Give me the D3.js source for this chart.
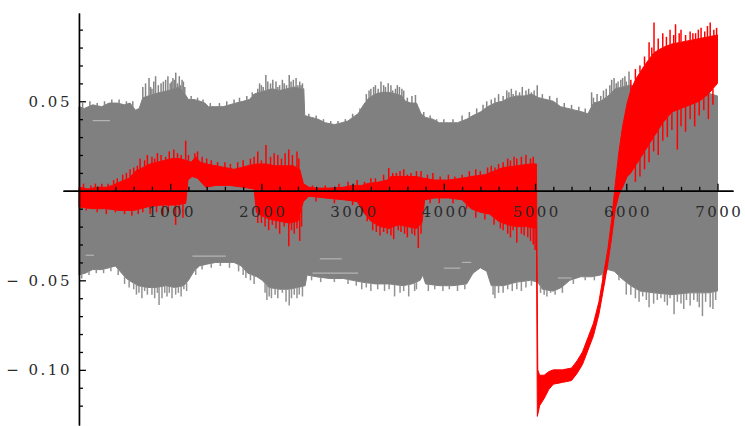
<!DOCTYPE html>
<html>
<head>
<meta charset="utf-8">
<script src="https://cdn.jsdelivr.net/npm/d3@7"></script>
<style>
  html, body { margin: 0; padding: 0; background: #fff; }
  svg { display: block; }
  .tick text { font-family: "DejaVu Serif", serif; font-size: 15px; fill: #2a2a2a; letter-spacing: 2.5px; }
</style>
</head>
<body>
<svg id="chart" width="745" height="426"></svg>
<script>
// ---- data: [time, value] pairs ----
// upper and lower envelope of the gray (background) signal
const grayUpper = [[0,0.047],[60,0.046],[150,0.048],[250,0.047],[330,0.049],[420,0.049],[500,0.048],[560,0.049],[620,0.045],[660,0.046],
  [700,0.052],[760,0.053],[820,0.054],[900,0.055],[980,0.056],[1040,0.057],[1100,0.058],[1150,0.055],[1200,0.051],[1260,0.051],
  [1330,0.050],[1380,0.049],[1420,0.047],[1500,0.047],[1580,0.047],[1650,0.048],[1720,0.049],[1800,0.050],[1870,0.051],[1920,0.054],
  [1980,0.055],[2050,0.056],[2120,0.057],[2200,0.056],[2280,0.057],[2360,0.058],[2440,0.057],[2465,0.057],[2475,0.042],[2550,0.041],
  [2620,0.040],[2700,0.038],[2800,0.037],[2880,0.038],[2950,0.039],[3000,0.041],[3060,0.043],[3120,0.048],[3180,0.052],[3250,0.054],
  [3320,0.055],[3400,0.055],[3480,0.054],[3540,0.053],[3580,0.050],[3640,0.049],[3700,0.049],[3750,0.043],[3800,0.041],[3880,0.040],
  [3950,0.038],[4050,0.038],[4150,0.038],[4250,0.040],[4320,0.042],[4400,0.044],[4480,0.047],[4560,0.049],[4640,0.050],[4720,0.052],
  [4800,0.053],[4880,0.053],[4960,0.054],[5040,0.052],[5120,0.051],[5200,0.050],[5280,0.047],[5360,0.046],[5440,0.045],[5520,0.044],
  [5580,0.043],[5640,0.049],[5720,0.050],[5800,0.053],[5880,0.057],[5960,0.058],[6040,0.059],[6200,0.058],[6400,0.057],[6600,0.056],
  [6800,0.056],[7000,0.053]];
const grayLower = [[0,-0.047],[70,-0.046],[150,-0.044],[250,-0.044],[330,-0.043],[400,-0.042],[450,-0.045],[520,-0.049],[580,-0.051],[650,-0.053],
  [750,-0.054],[850,-0.054],[950,-0.053],[1050,-0.054],[1150,-0.053],[1200,-0.050],[1260,-0.045],[1320,-0.042],[1400,-0.041],[1500,-0.040],
  [1600,-0.040],[1700,-0.040],[1780,-0.042],[1850,-0.046],[1950,-0.048],[2010,-0.050],[2080,-0.054],[2200,-0.055],[2300,-0.055],[2400,-0.054],
  [2480,-0.053],[2500,-0.047],[2600,-0.048],[2750,-0.049],[2900,-0.049],[3000,-0.050],[3100,-0.051],[3250,-0.052],[3400,-0.052],[3550,-0.053],
  [3650,-0.052],[3740,-0.050],[3770,-0.047],[3800,-0.052],[3950,-0.053],[4100,-0.053],[4250,-0.052],[4320,-0.046],[4400,-0.043],[4470,-0.045],
  [4520,-0.053],[4650,-0.053],[4800,-0.051],[4950,-0.050],[5030,-0.051],[5080,-0.055],[5200,-0.056],[5290,-0.054],[5380,-0.050],[5500,-0.048],
  [5620,-0.048],[5720,-0.047],[5800,-0.044],[5870,-0.045],[5950,-0.049],[6050,-0.053],[6150,-0.056],[6300,-0.057],[6500,-0.058],[6700,-0.057],
  [6900,-0.057],[7000,-0.056]];
// short excursions of the gray signal past its envelope
const grayUpperSpikes = [[40,0.049],[120,0.050],[200,0.049],[280,0.050],[360,0.051],[440,0.051],[520,0.050],[590,0.050],
  [700,0.058],[730,0.060],[768,0.063],[785,0.058],[800,0.057],[820,0.061],[840,0.064],[870,0.059],[900,0.060],[925,0.061],[950,0.062],[975,0.064],
  [1000,0.060],[1015,0.061],[1030,0.063],[1045,0.062],[1061,0.066],[1080,0.060],[1100,0.064],[1115,0.059],[1130,0.062],[1145,0.061],[1160,0.058],
  [1230,0.053],[1300,0.052],[1360,0.051],[1440,0.049],[1540,0.049],[1620,0.050],[1700,0.051],[1760,0.052],[1840,0.053],[1900,0.055],
  [1960,0.057],[1980,0.060],[2000,0.059],[2020,0.058],[2049,0.0647],[2070,0.061],[2100,0.060],[2125,0.062],[2160,0.061],[2180,0.058],
  [2200,0.059],[2230,0.062],[2250,0.060],[2275,0.059],[2305,0.0647],[2325,0.061],[2350,0.062],[2380,0.063],[2400,0.059],[2420,0.061],[2435,0.059],[2450,0.060],
  [2520,0.043],[2600,0.042],[2680,0.040],[2760,0.039],[2840,0.039],[2920,0.040],[3000,0.043],[3080,0.046],
  [3150,0.054],[3180,0.056],[3200,0.057],[3230,0.058],[3250,0.059],[3280,0.057],[3311,0.061],[3340,0.059],[3360,0.058],[3390,0.060],[3420,0.059],
  [3440,0.056],[3470,0.057],[3490,0.059],[3513,0.058],[3540,0.057],[3560,0.056],[3600,0.052],[3650,0.053],[3689,0.0535],
  [3780,0.044],[3850,0.042],[3920,0.040],[4000,0.040],[4100,0.040],[4200,0.042],[4280,0.044],[4360,0.046],[4430,0.048],
  [4470,0.050],[4520,0.051],[4560,0.052],[4600,0.054],[4650,0.053],[4690,0.056],[4713,0.055],[4740,0.057],[4760,0.054],[4790,0.056],[4830,0.055],
  [4860,0.058],[4900,0.056],[4930,0.057],[4960,0.055],[4990,0.056],[5024,0.059],
  [5080,0.054],[5160,0.053],[5240,0.052],[5320,0.049],[5400,0.048],[5480,0.047],[5550,0.046],
  [5620,0.055],[5640,0.052],[5680,0.054],[5720,0.053],[5750,0.056],[5780,0.057],[5820,0.059],[5840,0.062],[5866,0.063],[5890,0.060],[5910,0.061],
  [5940,0.062],[5960,0.063],[5985,0.064],[6000,0.061],[6030,0.0666]];
const grayLowerSpikes = [[30,-0.049],[110,-0.047],[190,-0.046],[270,-0.046],[350,-0.045],[430,-0.047],[500,-0.052],[550,-0.054],
  [600,-0.055],[630,-0.058],[658,-0.057],[690,-0.060],[720,-0.056],[750,-0.058],[800,-0.058],[830,-0.060],[860,-0.057],[878,-0.0638],[910,-0.060],
  [940,-0.057],[965,-0.059],[990,-0.057],[1020,-0.060],[1060,-0.058],[1090,-0.057],[1120,-0.059],[1150,-0.055],[1180,-0.056],
  [1280,-0.047],[1350,-0.044],[1450,-0.043],[1550,-0.042],[1650,-0.043],[1750,-0.045],[1800,-0.047],[1830,-0.0487],[1880,-0.050],[1920,-0.052],
  [2040,-0.057],[2060,-0.061],[2085,-0.059],[2110,-0.060],[2150,-0.058],[2180,-0.060],[2230,-0.057],[2270,-0.062],[2305,-0.064],[2330,-0.060],
  [2360,-0.058],[2390,-0.060],[2415,-0.058],[2450,-0.059],
  [2550,-0.050],[2650,-0.051],[2800,-0.051],[2950,-0.052],[3040,-0.053],
  [3100,-0.055],[3150,-0.054],[3200,-0.056],[3275,-0.055],[3350,-0.056],[3400,-0.055],[3460,-0.059],[3520,-0.057],[3560,-0.056],[3615,-0.059],
  [3680,-0.056],[3700,-0.055],[3830,-0.056],[3900,-0.055],[3990,-0.056],[4060,-0.055],[4150,-0.056],[4230,-0.055],
  [4540,-0.058],[4560,-0.060],[4600,-0.057],[4650,-0.057],[4700,-0.055],[4750,-0.056],[4800,-0.055],[4850,-0.056],[4900,-0.054],[4960,-0.053],
  [5060,-0.057],[5100,-0.058],[5130,-0.059],[5170,-0.057],[5220,-0.058],[5300,-0.057],[5420,-0.052],[5550,-0.050],[5650,-0.050],[5740,-0.049],
  [5920,-0.050],[6000,-0.058],[6050,-0.058],[6100,-0.060],[6140,-0.062],[6180,-0.059],[6220,-0.061],[6250,-0.065],[6300,-0.063],[6340,-0.061],
  [6380,-0.060],[6420,-0.062],[6450,-0.064],[6480,-0.060],[6524,-0.069],[6560,-0.062],[6600,-0.063],[6630,-0.066],[6660,-0.061],[6700,-0.064],
  [6740,-0.061],[6780,-0.062],[6800,-0.065],[6835,-0.070],[6870,-0.062],[6920,-0.065],[6950,-0.066],[6980,-0.061]];
// faint gaps inside the gray band: [from, to, value]
const grayGaps = [[150,340,0.0392],[73,165,-0.036],[1244,1610,-0.0365],[2640,2880,-0.038],[2560,3060,-0.046],[4000,4180,-0.0432],[4200,4300,-0.040],[5250,5400,-0.0487]];

// upper and lower envelope of the red signal
const redUpper = [[0,0.002],[100,0.001],[200,0.002],[300,0.002],[366,0.003],[450,0.005],[550,0.007],[620,0.011],[700,0.013],[780,0.015],
  [860,0.016],[940,0.017],[1020,0.018],[1100,0.018],[1170,0.017],[1230,0.016],[1280,0.019],[1330,0.016],[1400,0.015],[1500,0.014],
  [1600,0.013],[1700,0.012],[1780,0.013],[1850,0.014],[1950,0.015],[2050,0.015],[2150,0.014],[2250,0.014],[2350,0.014],[2420,0.012],
  [2460,0.004],[2520,0.002],[2600,0.0015],[2750,0.0015],[2900,0.002],[3000,0.003],[3100,0.003],[3160,0.004],[3300,0.005],[3380,0.006],
  [3420,0.008],[3550,0.008],[3700,0.008],[3780,0.007],[3900,0.006],[4050,0.006],[4200,0.007],[4300,0.008],[4450,0.009],[4550,0.011],
  [4650,0.013],[4800,0.014],[4950,0.015],[5015,0.015],[5030,-0.100],[5050,-0.103],[5100,-0.103],[5150,-0.101],[5200,-0.100],[5300,-0.100],
  [5400,-0.099],[5460,-0.095],[5520,-0.090],[5580,-0.082],[5640,-0.074],[5700,-0.062],[5760,-0.044],[5800,-0.032],[5840,-0.016],[5880,0.004],
  [5920,0.022],[5960,0.036],[6010,0.049],[6050,0.056],[6100,0.062],[6200,0.070],[6300,0.077],[6400,0.080],[6500,0.082],[6600,0.083],
  [6700,0.084],[6800,0.085],[6900,0.086],[7000,0.087]];
const redLower = [[0,-0.009],[150,-0.010],[300,-0.010],[450,-0.011],[600,-0.011],[750,-0.009],[900,-0.008],[1050,-0.008],[1170,-0.007],[1195,0.006],
  [1240,0.008],[1300,0.007],[1390,0.002],[1500,0.003],[1650,0.003],[1800,0.002],[1920,0.001],[1945,-0.012],[2000,-0.014],[2100,-0.016],
  [2200,-0.017],[2300,-0.018],[2400,-0.017],[2460,-0.006],[2520,-0.003],[2700,-0.004],[2900,-0.005],[3050,-0.006],[3120,-0.012],[3200,-0.017],
  [3300,-0.020],[3400,-0.021],[3500,-0.019],[3600,-0.020],[3700,-0.021],[3760,-0.018],[3790,-0.005],[3900,-0.004],[4050,-0.004],[4200,-0.005],
  [4300,-0.010],[4400,-0.012],[4500,-0.013],[4600,-0.017],[4700,-0.019],[4800,-0.020],[4900,-0.020],[5015,-0.021],[5025,-0.126],[5050,-0.120],
  [5100,-0.116],[5150,-0.111],[5200,-0.108],[5300,-0.107],[5400,-0.106],[5460,-0.102],[5520,-0.097],[5580,-0.089],[5640,-0.081],[5700,-0.069],
  [5760,-0.052],[5800,-0.040],[5840,-0.026],[5880,-0.010],[5920,-0.002],[5960,0.002],[6010,0.008],[6050,0.010],[6100,0.014],[6200,0.022],
  [6300,0.030],[6400,0.038],[6500,0.044],[6600,0.046],[6700,0.048],[6800,0.050],[6900,0.054],[7000,0.060]];
const redUpperSpikes = [[50,0.004],[130,0.003],[180,0.004],[250,0.004],[320,0.004],[380,0.006],[420,0.007],[480,0.009],[520,0.010],[560,0.012],
  [600,0.013],[640,0.014],[670,0.018],[720,0.017],[750,0.020],[800,0.019],[830,0.018],[860,0.021],[900,0.020],[950,0.019],[990,0.022],
  [1040,0.023],[1080,0.021],[1120,0.020],[1170,0.028],[1200,0.020],[1270,0.021],[1300,0.022],[1350,0.019],[1400,0.018],[1450,0.017],
  [1520,0.016],[1600,0.016],[1660,0.015],[1740,0.016],[1800,0.017],[1880,0.018],[1920,0.019],[1960,0.022],[2000,0.017],[2050,0.0256],
  [2100,0.019],[2140,0.021],[2180,0.020],[2220,0.018],[2260,0.021],[2300,0.023],[2340,0.020],[2390,0.022],[2410,0.018],
  [2560,0.003],[2700,0.003],[2850,0.004],[2950,0.005],[3050,0.006],[3130,0.005],[3200,0.007],[3250,0.007],[3340,0.009],[3396,0.0127],
  [3440,0.010],[3480,0.010],[3520,0.011],[3560,0.012],[3600,0.009],[3640,0.010],[3700,0.011],[3750,0.011],[3820,0.009],[3880,0.010],
  [3960,0.008],[4050,0.009],[4120,0.008],[4200,0.009],[4280,0.011],[4350,0.012],[4400,0.011],[4480,0.013],[4520,0.014],[4560,0.013],
  [4600,0.015],[4650,0.016],[4700,0.018],[4730,0.017],[4770,0.019],[4800,0.018],[4850,0.019],[4900,0.020],[4950,0.018],[4980,0.019],
  [6050,0.062],[6100,0.068],[6150,0.070],[6200,0.075],[6250,0.083],[6280,0.080],[6304,0.094],[6350,0.085],[6400,0.088],[6440,0.086],
  [6480,0.090],[6520,0.087],[6540,0.093],[6580,0.088],[6600,0.090],[6650,0.087],[6700,0.089],[6730,0.088],[6760,0.088],[6790,0.090],
  [6820,0.091],[6860,0.089],[6890,0.092],[6920,0.094],[6960,0.090],[6990,0.091]];
const redLowerSpikes = [[80,-0.011],[200,-0.012],[300,-0.013],[400,-0.012],[500,-0.013],[580,-0.014],[650,-0.013],[700,-0.012],[780,-0.013],
  [850,-0.012],[920,-0.014],[980,-0.012],[1060,-0.019],[1100,-0.013],[1140,-0.015],
  [1960,-0.018],[2000,-0.018],[2040,-0.020],[2080,-0.022],[2120,-0.019],[2160,-0.021],[2200,-0.024],[2250,-0.020],[2300,-0.031],[2330,-0.022],
  [2360,-0.024],[2390,-0.021],[2420,-0.028],[2440,-0.020],[2600,-0.006],[2800,-0.007],[3000,-0.008],
  [3160,-0.017],[3220,-0.022],[3260,-0.023],[3300,-0.025],[3340,-0.023],[3380,-0.024],[3420,-0.025],[3450,-0.027],[3500,-0.022],[3530,-0.023],
  [3570,-0.024],[3600,-0.026],[3650,-0.024],[3680,-0.025],[3720,-0.032],[3750,-0.024],
  [3850,-0.007],[3950,-0.007],[4100,-0.007],[4250,-0.010],[4350,-0.015],[4450,-0.016],[4550,-0.019],[4620,-0.021],[4650,-0.022],[4700,-0.024],
  [4730,-0.026],[4760,-0.022],[4800,-0.029],[4850,-0.024],[4880,-0.025],[4920,-0.026],[4950,-0.028],[4980,-0.030],[5000,-0.033],
  [6100,0.005],[6150,0.008],[6200,0.012],[6250,0.016],[6300,0.022],[6350,0.020],[6400,0.028],[6450,0.030],[6500,0.034],[6560,0.023],
  [6600,0.036],[6650,0.033],[6700,0.040],[6750,0.036],[6800,0.042],[6850,0.045],[6900,0.040],[6950,0.048]];

// axis ticks
const xMajorTicks = [1000, 2000, 3000, 4000, 5000, 6000, 7000];
const xMinorTicks = d3.range(200, 7001, 200).filter(v => v % 1000 !== 0);
const yMajorTicks = [0.05, -0.05, -0.10];
const yMinorTicks = [0.09, 0.08, 0.07, 0.06, 0.04, 0.03, 0.02, 0.01, -0.01, -0.02, -0.03, -0.04, -0.06, -0.07, -0.08, -0.09, -0.11, -0.12];
const yLabels = ["0.05", "\u2212 0.05", "\u2212 0.10"];

// ---- scales ----
const svg = d3.select("#chart");
const x = d3.scaleLinear().domain([-175, 7170]).range([63, 733]);
const y = d3.scaleLinear().domain([-0.1308, 0.0993]).range([425, 13]);

const line = d3.line().x(d => x(d[0])).y(d => y(d[1]));
const bandPath = (upper, lower) => line(upper.concat(lower.slice().reverse())) + "Z";

// envelope value at a given time (linear between stored points)
function envelopeAt(env, t) {
  const i = d3.bisector(d => d[0]).right(env, t);
  if (i <= 0) return env[0][1];
  if (i >= env.length) return env[env.length - 1][1];
  const a = env[i - 1], b = env[i];
  return d3.interpolateNumber(a[1], b[1])((t - a[0]) / (b[0] - a[0]));
}

function drawSpikes(g, spikes, env, color, width) {
  g.selectAll(null).data(spikes).join("line")
    .attr("x1", d => x(d[0])).attr("x2", d => x(d[0]))
    .attr("y1", d => y(envelopeAt(env, d[0]))).attr("y2", d => y(d[1]))
    .attr("stroke", color).attr("stroke-width", width);
}

// ---- gray signal ----
const gGray = svg.append("g");
gGray.append("path").attr("d", bandPath(grayUpper, grayLower))
  .attr("fill", "#808080").attr("stroke", "#808080").attr("stroke-width", 1).attr("stroke-linejoin", "bevel");
drawSpikes(gGray, grayUpperSpikes, grayUpper, "#858585", 1.5);
drawSpikes(gGray, grayLowerSpikes, grayLower, "#929292", 1.5);
gGray.selectAll(null).data(grayGaps).join("line")
  .attr("x1", d => x(d[0])).attr("x2", d => x(d[1]))
  .attr("y1", d => y(d[2])).attr("y2", d => y(d[2]))
  .attr("stroke", "#b4b4b4").attr("stroke-width", 1.2);

// ---- red signal ----
const gRed = svg.append("g");
gRed.append("path").attr("d", bandPath(redUpper, redLower))
  .attr("fill", "#ff0000").attr("stroke", "#ff0000").attr("stroke-width", 1).attr("stroke-linejoin", "bevel");
drawSpikes(gRed, redUpperSpikes, redUpper, "#ff0000", 1.5);
drawSpikes(gRed, redLowerSpikes, redLower, "#ff0000", 1.5);

// ---- axes (crossing at the origin) ----
const axisColor = "#000";
svg.append("g").attr("transform", `translate(0,${y(0)})`)
  .call(d3.axisBottom(x).tickValues(xMinorTicks).tickSize(-4).tickSizeOuter(0).tickFormat(""));
const xAxis = svg.append("g").attr("transform", `translate(0,${y(0)})`)
  .call(d3.axisBottom(x).tickValues(xMajorTicks).tickSize(-7).tickSizeOuter(0).tickPadding(16).tickFormat(d3.format("d")));
xAxis.selectAll(".tick text").attr("dx", "1.25px");

svg.append("g").attr("transform", `translate(${x(0)},0)`)
  .call(d3.axisLeft(y).tickValues(yMinorTicks).tickSize(-4).tickSizeOuter(0).tickFormat(""));
svg.append("g").attr("transform", `translate(${x(0)},0)`)
  .call(d3.axisLeft(y).tickValues(yMajorTicks).tickSize(-7).tickSizeOuter(0).tickPadding(7)
    .tickFormat((d, i) => yLabels[i]));

svg.selectAll(".domain").attr("stroke", axisColor).attr("stroke-width", 1.4);
svg.selectAll(".tick line").attr("stroke", axisColor).attr("stroke-width", 1.3);
</script>
</body>
</html>
